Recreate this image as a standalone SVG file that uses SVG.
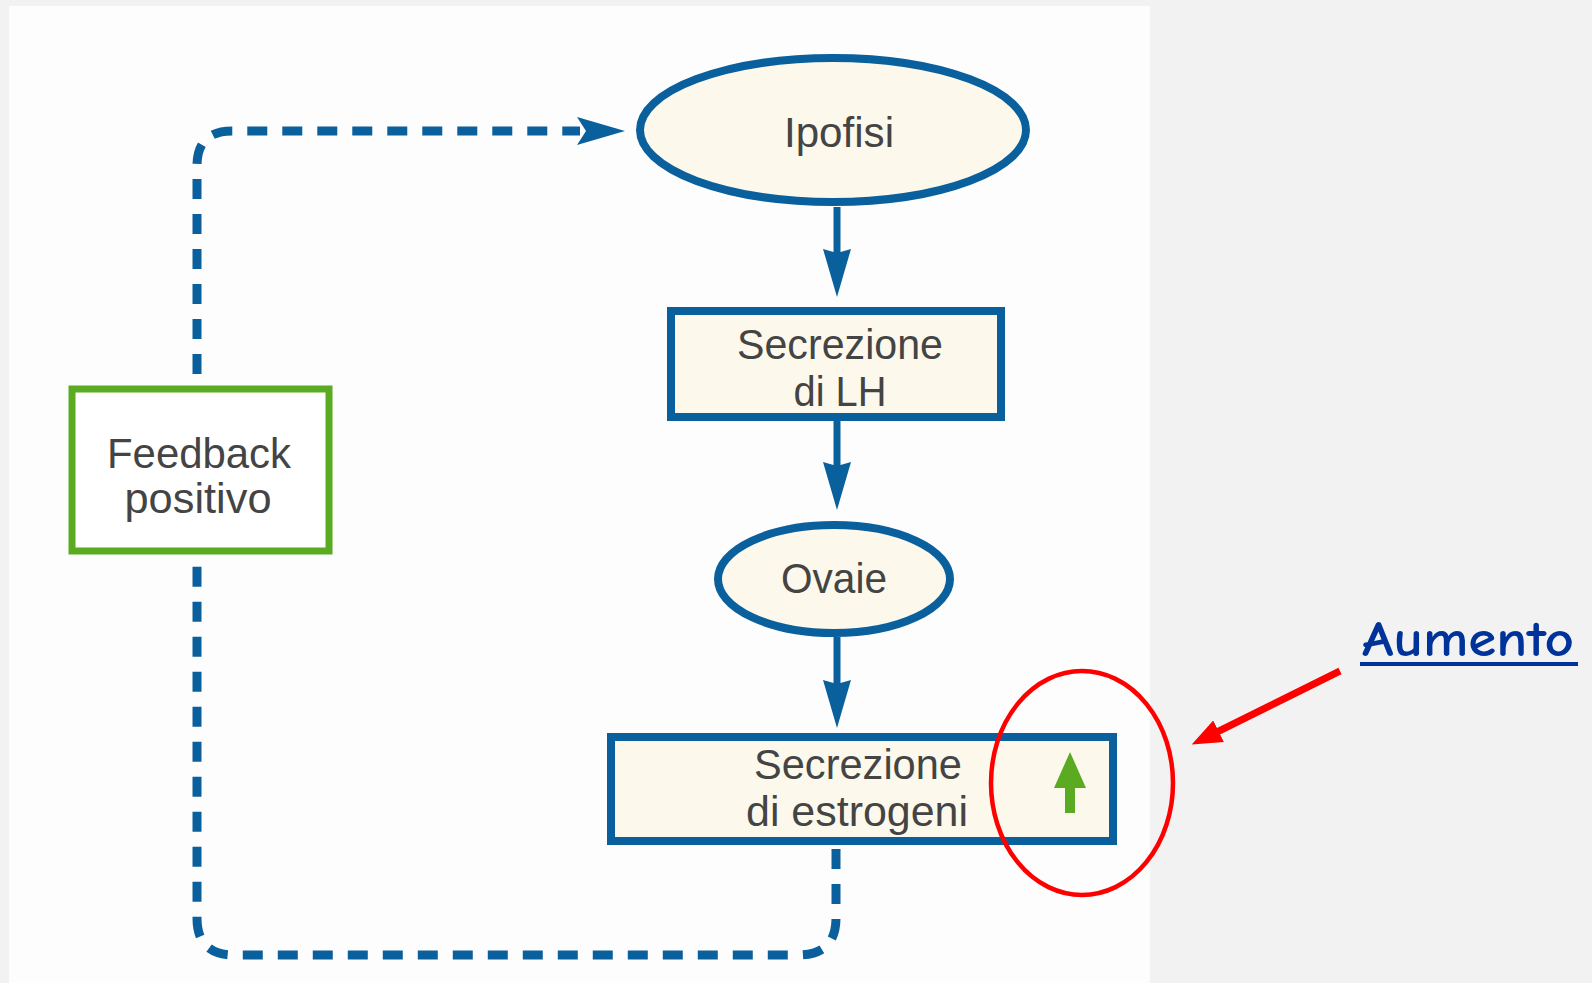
<svg xmlns="http://www.w3.org/2000/svg" width="1592" height="983" viewBox="0 0 1592 983">
<style>
.node{fill:#fcf9ec;stroke:#0a609d;stroke-width:8}
.fb{fill:#ffffff;stroke:#5aab21;stroke-width:7}
.lbl{font-family:"Liberation Sans",Arial,sans-serif;font-size:43px;fill:#444444;text-anchor:middle}
.solid{stroke:#0a609d;stroke-width:7;fill:none}
.dash{stroke:#0a609d;stroke-width:9;fill:none;stroke-dasharray:20 15}
</style>
<defs>
<marker id="ah" viewBox="0 0 48 28" refX="6" refY="14" markerWidth="48" markerHeight="28" markerUnits="userSpaceOnUse" orient="auto">
<path d="M0,0 L48,14 L0,28 L4,14 z" fill="#0a609d"/>
</marker>
<marker id="dah" viewBox="0 0 48 28" refX="3" refY="14" markerWidth="48" markerHeight="28" markerUnits="userSpaceOnUse" orient="auto">
<path d="M0,0 L48,14 L0,28 L9,14 z" fill="#0a609d"/>
</marker>
<marker id="rah" viewBox="0 0 30 24" refX="4" refY="12" markerWidth="30" markerHeight="24" markerUnits="userSpaceOnUse" orient="auto">
<path d="M0,0 L30,12 L0,24 z" fill="#ff0000"/>
</marker>
</defs>
<rect x="0" y="0" width="1592" height="983" fill="#f2f2f2"/>
<rect x="9" y="6" width="1141" height="977" fill="#fdfdfd"/>

<g id="connectors">
<line class="solid" x1="837" y1="207" x2="837" y2="255" marker-end="url(#ah)"/>
<line class="solid" x1="837" y1="419" x2="837" y2="468" marker-end="url(#ah)"/>
<line class="solid" x1="837" y1="637" x2="837" y2="686" marker-end="url(#ah)"/>
<path class="dash" d="M836,849 L836,918 Q836,955 798,955 L234,955 Q197,955 197,918 L197,562"/>
<path class="dash" d="M197,374 L197,166 Q197,131 232,131 L580,131" marker-end="url(#dah)"/>
</g>

<g id="ipofisi">
<ellipse class="node" cx="833" cy="130" rx="193" ry="72"/>
<text class="lbl" x="839" y="147" textLength="110" lengthAdjust="spacingAndGlyphs">Ipofisi</text>
</g>

<g id="secrezione-lh">
<rect class="node" x="671" y="311" width="330" height="106"/>
<text class="lbl" x="840" y="359" textLength="206" lengthAdjust="spacingAndGlyphs">Secrezione</text>
<text class="lbl" x="840" y="406" textLength="93" lengthAdjust="spacingAndGlyphs">di LH</text>
</g>

<g id="ovaie">
<ellipse class="node" cx="834" cy="579" rx="116" ry="54"/>
<text class="lbl" x="834" y="593" textLength="106" lengthAdjust="spacingAndGlyphs">Ovaie</text>
</g>

<g id="secrezione-estrogeni">
<rect class="node" x="611" y="737" width="502" height="104"/>
<text class="lbl" x="858" y="779" textLength="208" lengthAdjust="spacingAndGlyphs">Secrezione</text>
<text class="lbl" x="857" y="826" textLength="222" lengthAdjust="spacingAndGlyphs">di estrogeni</text>
<path d="M1070,752 L1086,788 L1075,788 L1075,813 L1065,813 L1065,788 L1054,788 z" fill="#5aab21"/>
</g>

<g id="feedback">
<rect class="fb" x="72" y="389" width="257" height="162"/>
<text class="lbl" x="199" y="468" textLength="184" lengthAdjust="spacingAndGlyphs">Feedback</text>
<text class="lbl" x="198" y="513" textLength="147" lengthAdjust="spacingAndGlyphs">positivo</text>
</g>

<g id="annotation">
<ellipse cx="1082" cy="783" rx="91" ry="112" fill="none" stroke="#ff0000" stroke-width="4.5"/>
<line x1="1340" y1="671" x2="1215" y2="733" stroke="#ff0000" stroke-width="7" marker-end="url(#rah)"/>
<text x="1468" y="656" font-family="'Comic Sans MS','Comic Neue','DejaVu Sans',sans-serif" font-size="50" font-weight="700" fill="#003399" text-anchor="middle" textLength="212" lengthAdjust="spacingAndGlyphs">Aumento</text>
<rect x="1360" y="662" width="218" height="4" fill="#003399"/>
</g>
</svg>
